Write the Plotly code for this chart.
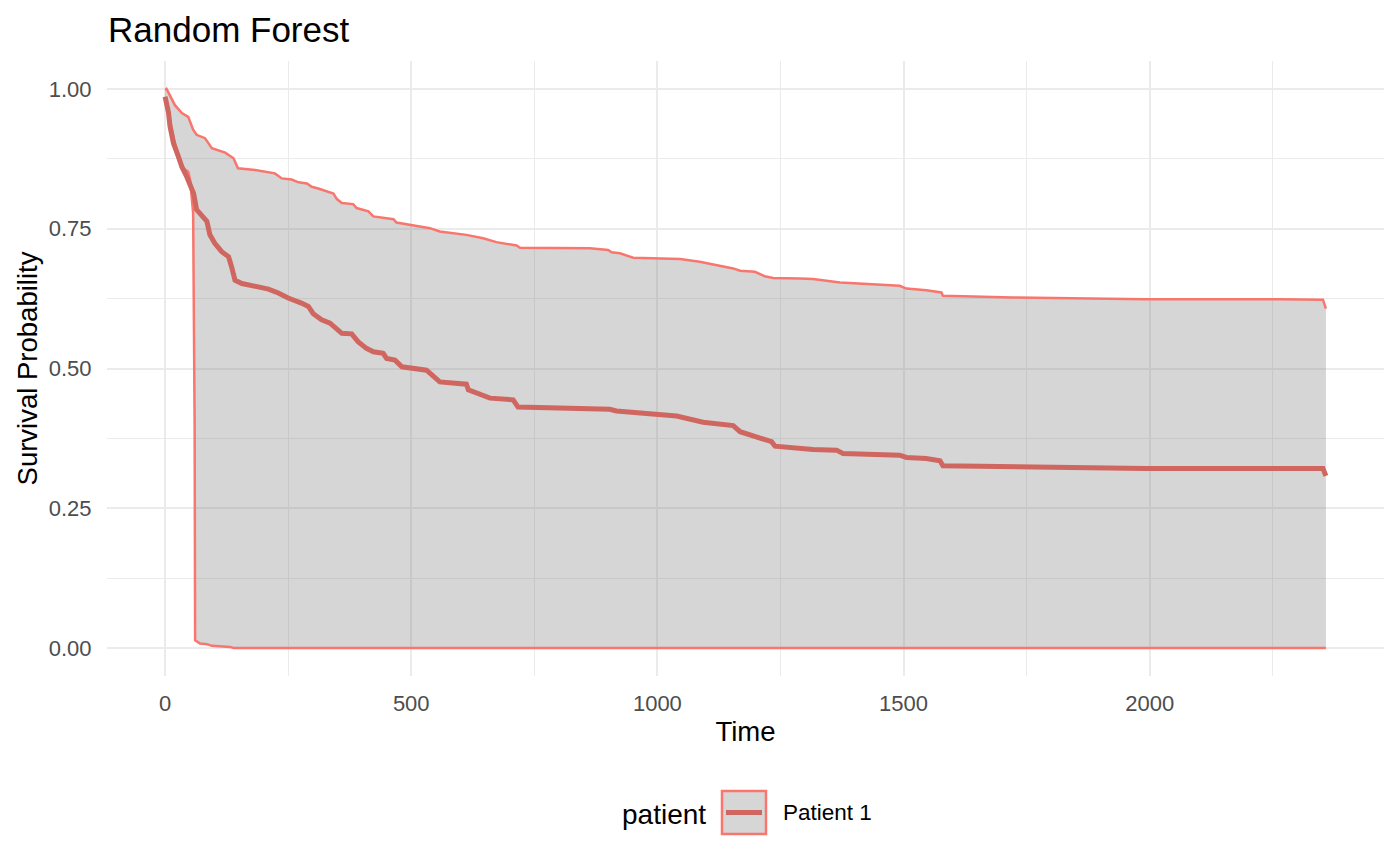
import plotly.graph_objects as go

# survival curves (time, probability)
tempo_sup = [0, 3, 20, 34, 47, 57, 64, 81, 95, 122, 139, 148, 183, 223, 237, 257, 271, 288,
             298, 311, 342, 349, 359, 382, 389, 413, 423, 443, 464, 470, 501, 538, 558, 612,
             646, 673, 714, 721, 863, 900, 907, 924, 951, 1046, 1086, 1154, 1168, 1198, 1218,
             1235, 1289, 1316, 1371, 1492, 1506, 1546, 1577, 1580, 1722, 1993, 2264, 2352, 2358]
prob_sup = [0.998, 1.0, 0.971, 0.957, 0.950, 0.927, 0.918, 0.912, 0.894, 0.886, 0.876, 0.858,
            0.855, 0.849, 0.840, 0.838, 0.833, 0.831, 0.825, 0.822, 0.813, 0.803, 0.796, 0.794,
            0.787, 0.781, 0.772, 0.769, 0.767, 0.761, 0.756, 0.751, 0.745, 0.739, 0.733, 0.726,
            0.720, 0.716, 0.715, 0.712, 0.708, 0.706, 0.698, 0.696, 0.691, 0.679, 0.675, 0.673,
            0.665, 0.662, 0.661, 0.660, 0.654, 0.648, 0.643, 0.640, 0.636, 0.630, 0.627, 0.624,
            0.624, 0.623, 0.607]

tempo_med = [0, 7, 10, 17, 27, 34, 44, 51, 58, 64, 78, 85, 91, 101, 115, 129, 135, 142, 156,
             183, 210, 230, 250, 277, 291, 301, 318, 335, 359, 379, 392, 409, 423, 443, 450,
             467, 481, 531, 558, 612, 616, 660, 707, 717, 863, 903, 917, 985, 1039, 1093,
             1154, 1168, 1201, 1232, 1239, 1316, 1364, 1377, 1492, 1506, 1546, 1574, 1580,
             1722, 1993, 2264, 2352, 2358]
prob_med = [0.986, 0.957, 0.933, 0.903, 0.879, 0.861, 0.843, 0.825, 0.813, 0.784, 0.772,
            0.763, 0.739, 0.724, 0.709, 0.700, 0.682, 0.658, 0.652, 0.648, 0.642, 0.635, 0.626,
            0.617, 0.611, 0.598, 0.587, 0.581, 0.563, 0.562, 0.548, 0.536, 0.530, 0.527, 0.518,
            0.515, 0.503, 0.497, 0.476, 0.472, 0.462, 0.447, 0.444, 0.431, 0.429, 0.427, 0.424,
            0.419, 0.415, 0.404, 0.398, 0.387, 0.378, 0.369, 0.361, 0.355, 0.354, 0.348, 0.345,
            0.341, 0.339, 0.335, 0.326, 0.324, 0.321, 0.321, 0.321, 0.308]

tempo_inf = [0, 10, 20, 30, 37, 47, 51, 54, 57, 60, 61, 71, 85, 95, 132, 139, 2358]
prob_inf = [0.986, 0.945, 0.903, 0.873, 0.858, 0.852, 0.837, 0.807, 0.778, 0.40, 0.014,
            0.008, 0.007, 0.004, 0.002, 0.0, 0.0]

VERMELHO = '#F8766D'
VERMELHO_ESCURO = 'rgb(208,102,96)'
FONTE = 'Liberation Sans, Arial, sans-serif'

# a página tem 8px de margem no body, então tudo é medido em pixels da
# página e descontado desse deslocamento
DESLOC = 8
PAINEL_X0, PAINEL_X1 = 107, 1384
PAINEL_Y0, PAINEL_Y1 = 61, 676


def px_x(p):
    return (p - PAINEL_X0) / (PAINEL_X1 - PAINEL_X0)


def px_y(p):
    return (PAINEL_Y1 - p) / (PAINEL_Y1 - PAINEL_Y0)


fig = go.Figure()

# faixa cinza entre o limite inferior e o superior
fig.add_trace(go.Scatter(x=tempo_sup + tempo_inf[::-1], y=prob_sup + prob_inf[::-1],
                         mode='lines', fill='toself', fillcolor='rgba(120,120,120,0.3)',
                         line=dict(width=0, color='rgba(0,0,0,0)'),
                         showlegend=False, hoverinfo='skip'))

fig.add_trace(go.Scatter(x=tempo_inf, y=prob_inf, mode='lines',
                         line=dict(color=VERMELHO, width=2.5), showlegend=False))
fig.add_trace(go.Scatter(x=tempo_sup, y=prob_sup, mode='lines',
                         line=dict(color=VERMELHO, width=2.5), showlegend=False))
fig.add_trace(go.Scatter(x=tempo_med, y=prob_med, mode='lines',
                         line=dict(color=VERMELHO_ESCURO, width=5), showlegend=False))

# legenda no estilo ggplot (caixa cinza com borda vermelha)
fig.add_shape(type='rect', xref='paper', yref='paper',
              x0=px_x(722), x1=px_x(766), y0=px_y(834), y1=px_y(791),
              fillcolor='#d6d6d6', line=dict(color=VERMELHO, width=2.5))
fig.add_shape(type='line', xref='paper', yref='paper',
              x0=px_x(726), x1=px_x(762), y0=px_y(812.5), y1=px_y(812.5),
              line=dict(color=VERMELHO_ESCURO, width=5))
fig.add_annotation(text='patient', xref='paper', yref='paper', x=px_x(708), y=px_y(814),
                   xanchor='right', yanchor='middle', showarrow=False,
                   font=dict(family=FONTE, size=28, color='black'))
fig.add_annotation(text='Patient 1', xref='paper', yref='paper', x=px_x(781), y=px_y(813),
                   xanchor='left', yanchor='middle', showarrow=False,
                   font=dict(family=FONTE, size=22.5, color='black'))

fig.update_layout(
    width=1400, height=865,
    title=dict(text='Random Forest', x=(108 - DESLOC) / 1400, xanchor='left',
               y=1 - (30 - DESLOC) / 865, yanchor='middle',
               font=dict(family=FONTE, size=35, color='black')),
    paper_bgcolor='white',
    plot_bgcolor='white',
    margin=dict(l=PAINEL_X0 - DESLOC, r=1400 - PAINEL_X1 + DESLOC,
                t=PAINEL_Y0 - DESLOC, b=865 - PAINEL_Y1 + DESLOC),
    font=dict(family=FONTE),
    showlegend=False,
)

fig.update_xaxes(
    range=[-118, 2476], tickvals=[0, 500, 1000, 1500, 2000],
    showgrid=True, gridcolor='#ebebeb', gridwidth=2.3, zeroline=False, showline=False,
    ticks='outside', ticklen=8, tickcolor='rgba(0,0,0,0)',
    tickfont=dict(family=FONTE, size=22, color='#4d4d4d'),
    minor=dict(tickvals=[250, 750, 1250, 1750, 2250], showgrid=True, ticks='',
               gridcolor='#ebebeb', gridwidth=1.2),
    title=dict(text='Time', font=dict(family=FONTE, size=27.5, color='black'), standoff=6),
)
fig.update_yaxes(
    range=[-0.05, 1.05], tickvals=[0, 0.25, 0.5, 0.75, 1.0], tickformat='.2f',
    showgrid=True, gridcolor='#ebebeb', gridwidth=2.3, zeroline=False, showline=False,
    ticks='outside', ticklen=10, tickcolor='rgba(0,0,0,0)',
    tickfont=dict(family=FONTE, size=22, color='#4d4d4d'),
    minor=dict(tickvals=[0.125, 0.375, 0.625, 0.875], showgrid=True, ticks='',
               gridcolor='#ebebeb', gridwidth=1.2),
    title=dict(text='Survival Probability', font=dict(family=FONTE, size=27.5, color='black'),
               standoff=3),
)

fig.write_html('out.html')
